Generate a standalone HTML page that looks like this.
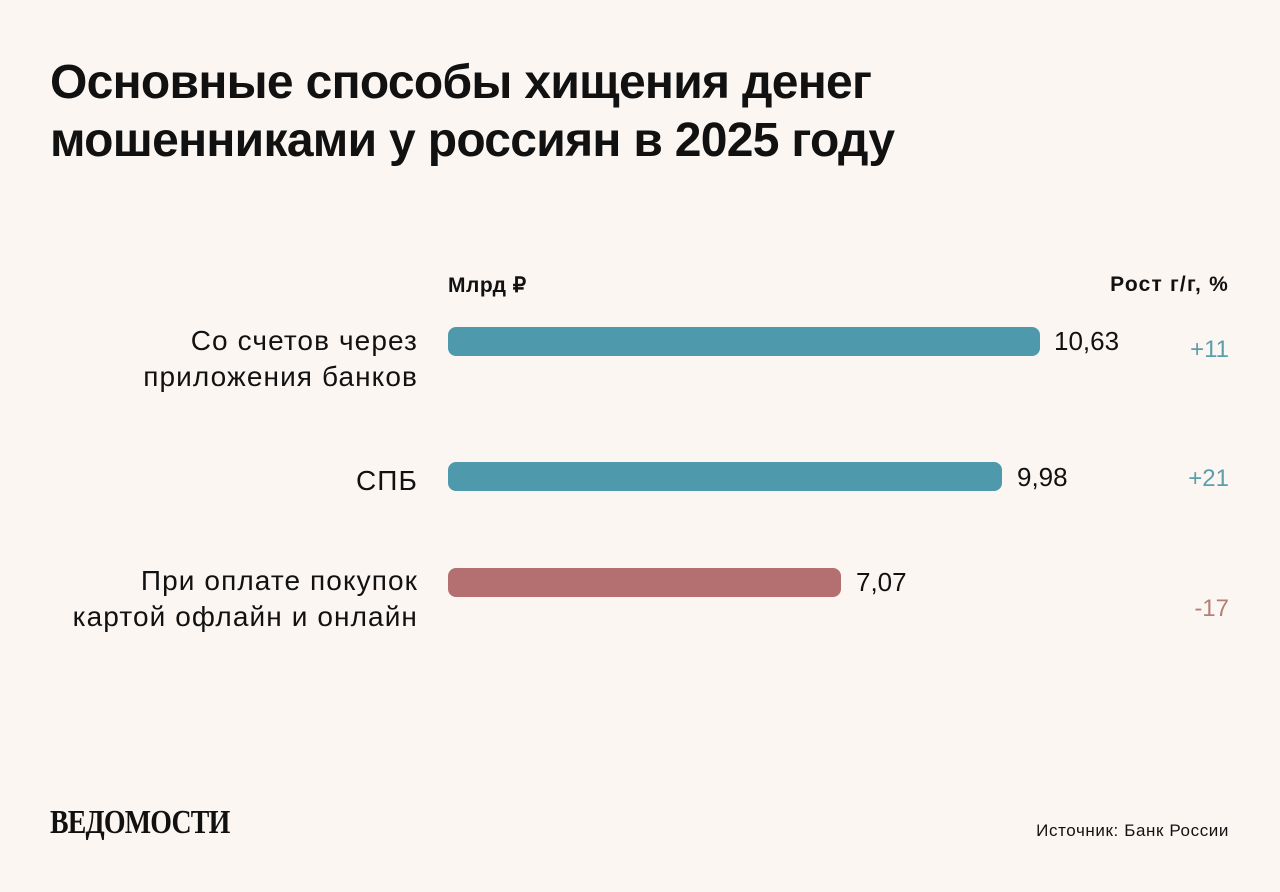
<!DOCTYPE html>
<html><head><meta charset="utf-8"><style>
html,body{margin:0;padding:0}
body{width:1280px;height:892px;background:#fcf6f2;position:relative;overflow:hidden;font-family:"Liberation Sans",sans-serif;color:#111}
.t{position:absolute;left:50px;top:54px;font-size:48px;font-weight:bold;line-height:58px;letter-spacing:-0.7px;white-space:nowrap}
.h{position:absolute;top:273px;font-size:21px;font-weight:bold;letter-spacing:0.5px}
.lab{position:absolute;right:862px;text-align:right;font-size:28px;line-height:36px;letter-spacing:1.1px;white-space:nowrap}
.bar{position:absolute;left:448px;height:29px;border-radius:8px}
.v{position:absolute;font-size:26px}
.g{position:absolute;right:51px;font-size:24px}
</style></head><body>
<div class="t">Основные способы хищения денег<br>мошенниками у россиян в 2025 году</div>
<div class="h" style="left:448px">Млрд ₽</div>
<div class="h" style="right:51px;letter-spacing:1.2px">Рост г/г, %</div>

<div class="lab" style="top:323px">Со счетов через<br>приложения банков</div>
<div class="bar" style="top:327px;width:592px;background:#4e99ac"></div>
<div class="v" style="left:1054px;top:326px">10,63</div>
<div class="g" style="top:336px;color:#5b9eac">+11</div>

<div class="lab" style="top:463px">СПБ</div>
<div class="bar" style="top:462px;width:554px;background:#4e99ac"></div>
<div class="v" style="left:1017px;top:462px">9,98</div>
<div class="g" style="top:465px;color:#5b9eac">+21</div>

<div class="lab" style="top:563px">При оплате покупок<br>картой офлайн и онлайн</div>
<div class="bar" style="top:568px;width:393px;background:#b47070"></div>
<div class="v" style="left:856px;top:567px">7,07</div>
<div class="g" style="top:595px;color:#b57f75">-17</div>

<div style="position:absolute;left:50px;top:804px;font-family:'Liberation Serif',serif;font-weight:bold;font-size:34px;letter-spacing:-1px;transform:scaleX(0.82);transform-origin:left">ВЕДОМОСТИ</div>
<div style="position:absolute;right:51px;top:821px;font-size:17px;letter-spacing:0.6px">Источник: Банк России</div>
</body></html>
